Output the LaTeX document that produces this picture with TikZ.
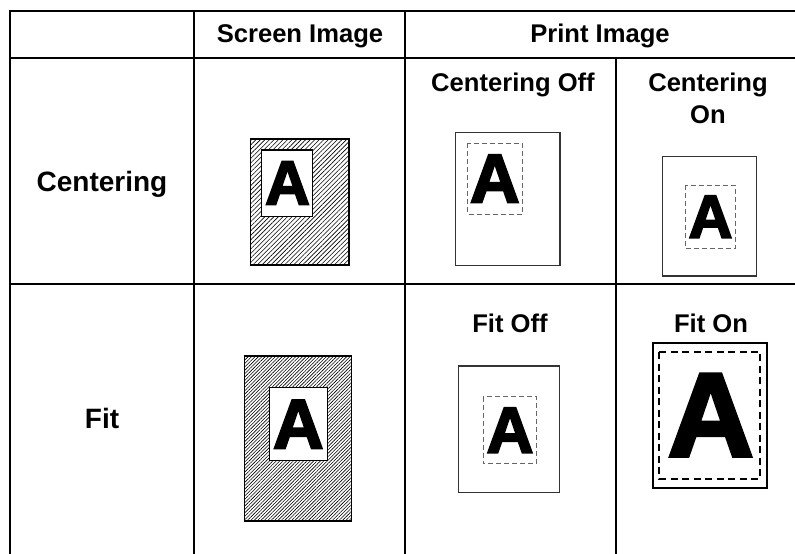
\documentclass[tikz,border=0pt]{standalone}
\usepackage{fontspec}
\setmainfont{Liberation Sans}
\newfontfamily\heavyfont[BoldFeatures={FakeBold=3}]{Liberation Sans}
\usetikzlibrary{patterns.meta}
\tikzset{
  rule/.style={line width=2pt, line cap=rect},
  headtext/.style={font=\bfseries\fontsize{25.6}{32.4}\selectfont, inner sep=0pt, anchor=base, align=center},
  rowtext/.style={font=\bfseries\fontsize{28}{34}\selectfont, inner sep=0pt, anchor=base},
  screenbox/.style={draw=black, line width=1.3pt},
  hatch/.style={pattern={Lines[angle=45, distance=#1, line width=0.6pt]}},
  page/.style={draw=black!80, line width=1.1pt},
  margin/.style={draw=black!60, line width=0.9pt, dash pattern=on 5pt off 3pt},
  letter/.style={font=\heavyfont\bfseries\fontsize{#1}{#1}\selectfont, inner sep=0pt},
}
\begin{document}
\begin{tikzpicture}[x=1pt, y=-1pt]
  \useasboundingbox (0,0) rectangle (795,554);
  % table rules
  \foreach \y in {11, 58, 284} \draw[rule] (10,\y) -- (800,\y);
  \foreach \x in {10, 194, 405} \draw[rule] (\x,11) -- (\x,560);
  \draw[rule] (616,58) -- (616,560);
  % headings
  \node[headtext] (screen) at (300,42) {Screen Image};
  \node[headtext] (print) at (600,42) {Print Image};
  \node[headtext] (coff) at (513,91) {Centering Off};
  \node[headtext] (con) at (708,123.7) {Centering\\On};
  \node[headtext] (foff) at (510,332) {Fit Off};
  \node[headtext] (fon) at (711,332) {Fit On};
  \node[rowtext] (centering) at (102,191) {Centering};
  \node[rowtext] (fit) at (102,428) {Fit};
  % screen images
  \draw[screenbox, hatch=3.2pt] (250.7,139) rectangle (349,265);
  \draw[screenbox, fill=white] (261.7,150) rectangle (312.7,216.7);
  \node[letter=62] (sa) at (287.5,183) {A};
  \draw[screenbox, hatch=2.4pt] (244.3,356) rectangle (351.7,521);
  \draw[screenbox, fill=white] (269.3,387.7) rectangle (327.3,460.7);
  \node[letter=70] (sb) at (298.3,424.2) {A};
  % centering off / on
  \draw[page] (455.7,132.3) rectangle (560,265.7);
  \draw[margin] (467.3,143.3) rectangle (522.3,214);
  \node[letter=69] (ca) at (494.8,178.7) {A};
  \draw[page] (662.3,156.7) rectangle (756.7,276);
  \draw[margin] (685.3,185.3) rectangle (735.7,248.3);
  \node[letter=61] (cb) at (710.5,216.8) {A};
  % fit off / on
  \draw[page] (458.7,366) rectangle (559.3,492.7);
  \draw[margin] (483.3,396.7) rectangle (536.7,463.7);
  \node[letter=65] (fa) at (510,430.2) {A};
  \draw[page, draw=black, line width=2pt] (653,343.3) rectangle (767,488.3);
  \draw[margin, draw=black, line width=1.7pt, dash pattern=on 7pt off 4.5pt] (659.3,352) rectangle (760.3,478.7);
  \node[letter=119] (fb) at (710.7,415.2) {A};
\end{tikzpicture}
\end{document}
